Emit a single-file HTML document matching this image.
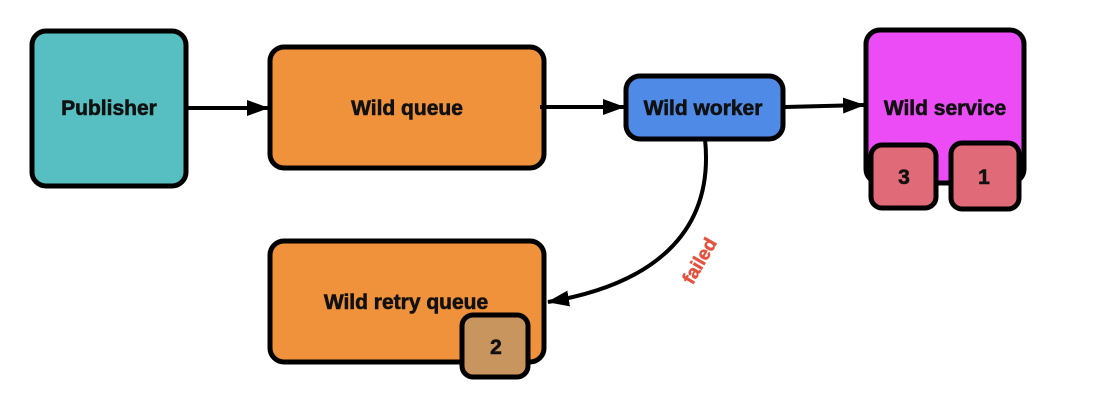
<!DOCTYPE html>
<html><head><meta charset="utf-8"><style>
html,body{margin:0;padding:0;background:#fff;width:1098px;height:402px;overflow:hidden}
text{font-family:"Liberation Sans",sans-serif;font-weight:bold;fill:#111}
</style></head><body>
<svg width="1098" height="402" viewBox="0 0 1098 402" xmlns="http://www.w3.org/2000/svg">
<defs>
<marker id="b" viewBox="0 0 22 16" markerWidth="22" markerHeight="16" refX="21" refY="8" orient="auto" markerUnits="userSpaceOnUse"><path d="M0,0 L22,8 L0,16 z" fill="#000"/></marker></defs>
<g stroke="#000" stroke-width="5">
<rect x="32" y="31" width="154" height="155" rx="14" fill="#57BFC1"/>
<rect x="270" y="47" width="274" height="121" rx="14" fill="#F0913C"/>
<rect x="626" y="76" width="157" height="63" rx="14" fill="#4F8BE6"/>
<rect x="866" y="30" width="158" height="153" rx="14" fill="#EC4CF6"/>
<rect x="871" y="145" width="65" height="63" rx="11" fill="#E06A78"/>
<rect x="951" y="143" width="68" height="66" rx="11" fill="#E06A78"/>
<rect x="270" y="241" width="274" height="121" rx="14" fill="#F0913C"/>
<rect x="462" y="315" width="66" height="62" rx="11" fill="#C9955F"/>
</g>
<g stroke="#000" stroke-width="4" fill="none">
<line x1="188" y1="108" x2="268" y2="108" marker-end="url(#b)"/>
<line x1="540" y1="107" x2="624" y2="107" marker-end="url(#b)"/>
<line x1="785" y1="107" x2="864" y2="105" marker-end="url(#b)"/>
<path d="M705,139 C715,235 650,285 548,302" marker-end="url(#b)"/>
</g>
<g font-size="21" text-anchor="middle" stroke="#111" stroke-width="0.6">
<text x="109" y="115">Publisher</text>
<text x="407" y="115">Wild queue</text>
<text x="703" y="115">Wild worker</text>
<text x="945" y="115">Wild service</text>
<text x="406" y="309">Wild retry queue</text>
<text x="904" y="184">3</text>
<text x="984" y="184">1</text>
<text x="496" y="354">2</text>
</g>
<text x="0" y="0" font-size="19" style="fill:#E5523F" stroke="#E5523F" stroke-width="0.5" text-anchor="middle" transform="translate(705,264) rotate(-60)">failed</text>
</svg>
</body></html>
